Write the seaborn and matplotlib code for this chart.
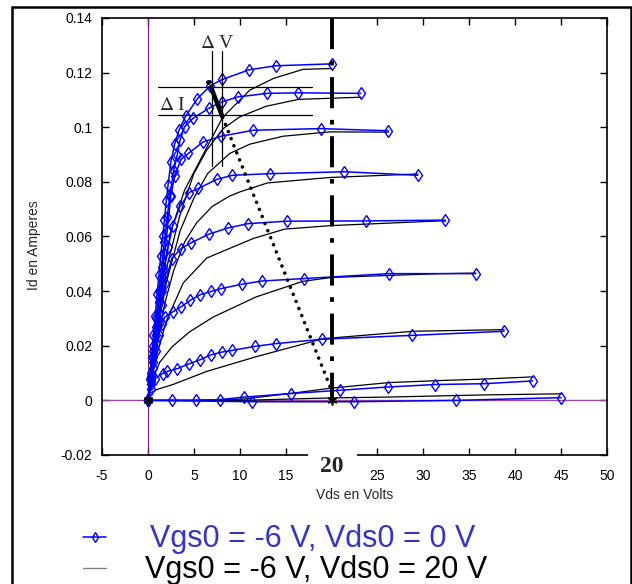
import numpy as np
import pandas as pd
import seaborn as sns
import matplotlib.pyplot as plt
from matplotlib.lines import Line2D
from matplotlib.patches import Rectangle
from matplotlib.transforms import blended_transform_factory

# Id(Vds) curves, one list of (Vds, Id) per Vgs step
# blue: Vgs0 = -6 V, Vds0 = 0 V
blue_1 = [(0, 0), (0.2, 0.008), (0.4, 0.016), (0.6, 0.024), (0.8, 0.031), (1.0, 0.039), (1.2, 0.046),
          (1.4, 0.053), (1.6, 0.06), (1.8, 0.066), (2.0, 0.073), (2.2, 0.079), (2.5, 0.0873), (2.9, 0.0937),
          (3.4, 0.099), (4.1, 0.104), (5.4, 0.1105), (6.8, 0.1152), (8.1, 0.1175), (11.0, 0.121),
          (13.9, 0.1225), (20.0, 0.1232)]
blue_2 = [(0, 0), (0.3, 0.01), (0.6, 0.02), (0.9, 0.03), (1.2, 0.04), (1.5, 0.049), (1.8, 0.058),
          (2.1, 0.067), (2.4, 0.075), (2.8, 0.084), (3.2, 0.09), (3.5, 0.0953), (4.0, 0.1002), (4.9, 0.1032),
          (6.7, 0.1071), (8.1, 0.1093), (9.8, 0.1111), (13.0, 0.1124), (16.4, 0.1126), (23.2, 0.1124)]
blue_3 = [(0, 0), (0.3, 0.009), (0.6, 0.018), (0.9, 0.027), (1.2, 0.036), (1.5, 0.045), (1.8, 0.054),
          (2.1, 0.062), (2.5, 0.075), (2.9, 0.082), (3.6, 0.0882), (4.4, 0.0904), (6.0, 0.0946),
          (7.95, 0.0967), (11.5, 0.0989), (18.8, 0.0995), (26.2, 0.0987)]
blue_4 = [(0, 0), (0.3, 0.008), (0.6, 0.016), (0.9, 0.024), (1.2, 0.032), (1.5, 0.04), (1.8, 0.048),
          (2.2, 0.056), (2.7, 0.064), (3.5, 0.071), (4.5, 0.0761), (5.5, 0.0776), (7.5, 0.0809),
          (9.2, 0.0824), (13.3, 0.083), (21.4, 0.0837), (29.4, 0.0824)]
blue_5 = [(0, 0), (0.3, 0.007), (0.6, 0.014), (0.9, 0.021), (1.2, 0.028), (1.5, 0.035), (1.9, 0.043),
          (2.6, 0.0519), (3.6, 0.0556), (4.65, 0.0576), (6.6, 0.0608), (8.7, 0.0631), (10.9, 0.0647),
          (15.1, 0.0656), (23.8, 0.0657), (32.4, 0.066)]
blue_6 = [(0, 0), (0.3, 0.006), (0.6, 0.012), (0.9, 0.018), (1.2, 0.024), (1.5, 0.0281), (1.85, 0.0305),
          (2.7, 0.0324), (3.6, 0.0342), (4.6, 0.0366), (5.7, 0.0387), (6.9, 0.0399), (7.95, 0.0409),
          (10.2, 0.0425), (12.45, 0.0437), (17.0, 0.0446), (26.3, 0.0464), (35.7, 0.0464)]
blue_7 = [(0, 0), (0.3, 0.004), (0.76, 0.008), (1.6, 0.0098), (2.1, 0.0106), (3.2, 0.0116), (4.5, 0.0134),
          (5.7, 0.0149), (6.9, 0.0167), (8.1, 0.0177), (9.2, 0.0183), (11.7, 0.0198), (14.0, 0.0208),
          (19.0, 0.0224), (28.8, 0.0238), (38.8, 0.0253)]
blue_8 = [(0, 0), (2.6, 0.0), (5.2, 0.0), (7.9, 0.0003), (10.5, 0.0012), (15.6, 0.0025), (20.9, 0.0037),
          (26.2, 0.0049), (31.3, 0.0058), (36.6, 0.0061), (41.9, 0.0071)]
blue_9 = [(0, 0), (11.3, -0.0005), (22.4, -0.0005), (33.6, 0.0), (45.0, 0.001)]

# black: Vgs0 = -6 V, Vds0 = 20 V
black_1 = [(0, 0), (0.5, 0.016), (1, 0.031), (1.5, 0.044), (2.5, 0.062), (4, 0.077), (5.7, 0.088),
           (8.14, 0.1036), (11.1, 0.1136), (13.7, 0.1179), (16.9, 0.1212), (20, 0.1215)]
black_2 = [(0, 0), (0.5, 0.014), (1, 0.027), (2, 0.048), (3.5, 0.068), (5, 0.083), (6.4, 0.0916),
           (8.2, 0.0995), (10, 0.1038), (12.9, 0.1077), (16.4, 0.1102), (23.2, 0.111)]
black_3 = [(0, 0), (0.5, 0.013), (1, 0.025), (2, 0.043), (3.5, 0.062), (5, 0.074), (6.5, 0.083),
           (8.9, 0.0904), (11.1, 0.0938), (14.7, 0.0967), (19.8, 0.0983), (26.2, 0.0982)]
black_4 = [(0, 0), (0.5, 0.011), (1, 0.021), (1.8, 0.035), (2.8, 0.0475), (4, 0.058), (5.3, 0.065),
           (7, 0.071), (8.9, 0.0748), (10, 0.0763), (13, 0.0796), (19.8, 0.0816), (29.4, 0.0829)]
black_5 = [(0, 0), (0.5, 0.009), (1, 0.017), (2, 0.029), (3.85, 0.043), (6.4, 0.0521), (11.5, 0.0593),
           (14.9, 0.0627), (20, 0.064), (31.8, 0.0657), (32.4, 0.0656)]
black_6 = [(0, 0), (0.6, 0.0085), (1.3, 0.014), (2.6, 0.0195), (4.5, 0.025), (7.1, 0.0305),
           (11.8, 0.0379), (16.9, 0.0436), (20, 0.045), (31.8, 0.0464), (35.7, 0.0466)]
black_7 = [(0, 0), (0.2, 0.0025), (1, 0.004), (2.8, 0.0059), (6.4, 0.0106), (11.8, 0.016),
           (19.1, 0.0226), (28.9, 0.0253), (38.8, 0.0259)]
black_8 = [(0, 0), (5, 0.0), (10.5, 0.0005), (16.6, 0.003), (20, 0.0045), (26.2, 0.0065), (31.3, 0.0072),
           (36.6, 0.0078), (41.9, 0.0086)]
black_9 = [(0, 0), (10.5, 0.0), (16.6, 0.0006), (20, 0.0009), (26, 0.0012), (31.3, 0.0016), (36.6, 0.002),
           (45, 0.0024)]

# construction lines (delta V / delta I and the shift towards Vds = 20 V)
delta_seg_x = [6.8, 8.14]
delta_seg_y = [0.1153, 0.1036]
dotted_x = [8.14, 20.0]
dotted_y = [0.1036, 0.0037]
dv_lines_x = [6.93, 8.02]
dv_lines_y = [0.0857, 0.128]
di_lines_y = [0.1147, 0.1043]
di_lines_x = [1.1, 17.9]
vds0 = 20
star_x = [0, 20]
star_y = [0, 0]

xtick_vals = list(range(-5, 51, 5))
ytick_vals = [-0.02, 0, 0.02, 0.04, 0.06, 0.08, 0.1, 0.12, 0.14]
ytick_labels = ['-0.02', '0', '0.02', '0.04', '0.06', '0.08', '0.1', '0.12', '0.14']


def to_frame(curves):
    rows = []
    for i, c in enumerate(curves):
        for v, a in c:
            rows.append({'curve': i, 'vds': v, 'id': a})
    return pd.DataFrame(rows)


blue_df = to_frame([blue_1, blue_2, blue_3, blue_4, blue_5, blue_6, blue_7, blue_8, blue_9])
black_df = to_frame([black_1, black_2, black_3, black_4, black_5, black_6, black_7, black_8, black_9])

sns.set_style('ticks')
plt.rcParams['font.family'] = ['Liberation Sans', 'DejaVu Sans']
plt.rcParams['mathtext.fontset'] = 'stix'

fig = plt.figure(figsize=(6.32, 5.84), dpi=100)
ax = fig.add_axes([0.1614, 0.2209, 0.799, 0.7483])

# axes through the origin
ax.axvline(0, color='#7a1a7a', lw=0.8, zorder=1)
ax.axhline(0, color='#9a4a9a', lw=1.0, zorder=1)

sns.lineplot(ax=ax, data=black_df, x='vds', y='id', units='curve', estimator=None, sort=False,
             color='black', lw=0.9, zorder=2, legend=False)
sns.lineplot(ax=ax, data=blue_df, x='vds', y='id', units='curve', estimator=None, sort=False,
             color='blue', lw=1.1, marker='d', markersize=6, markerfacecolor='none',
             markeredgecolor='blue', markeredgewidth=1.0, zorder=3, legend=False)

# Vds0 = 20 V dash-dot line (drawn from the top)
ax.plot([vds0, vds0], [0.14, 0], color='black', lw=2.8, solid_capstyle='butt',
        dash_capstyle='butt', linestyle=(0, (8.0, 3.0, 1.2, 3.0)), zorder=4)

for x in dv_lines_x:
    ax.plot([x, x], dv_lines_y, color='black', lw=0.9, zorder=4)
for y in di_lines_y:
    ax.plot(di_lines_x, [y, y], color='black', lw=0.9, zorder=4)
ax.plot(delta_seg_x, delta_seg_y, color='black', lw=3.2, solid_capstyle='butt', zorder=5)
ax.plot(dotted_x, dotted_y, color='black', lw=2.6, linestyle=(0, (0.01, 2.1)),
        dash_capstyle='round', zorder=5)
ax.plot([6.5], [0.1167], 'o', color='black', ms=2.5, zorder=5)
ax.plot(star_x, star_y, linestyle='none', marker=(6, 2, 0), color='black', ms=7, mew=1.2, zorder=6)

ax.text(7.55, 0.1307, r'$\Delta$ V', family='Liberation Serif', fontsize=14, ha='center', va='center')
ax.text(2.65, 0.108, r'$\Delta$ I', family='Liberation Serif', fontsize=14, ha='center', va='center')

# the big "20" sits in a gap cut into the bottom spine
trans = blended_transform_factory(ax.transData, ax.transAxes)
ax.add_patch(Rectangle((17.4, -0.012), 5.4, 0.03, transform=trans, fc='white', ec='none',
                       zorder=10, clip_on=False))
ax.text(vds0, -0.027, '20', transform=trans, family='Liberation Serif', fontweight='bold', fontsize=17,
        ha='center', va='center', zorder=11, clip_on=False)

ax.set_xlim(-5, 50)
ax.set_ylim(-0.02, 0.14)
ax.set_xticks(xtick_vals)
ax.set_xticklabels(['' if v == 20 else str(v) for v in xtick_vals])
ax.set_yticks(ytick_vals)
ax.set_yticklabels(ytick_labels)
ax.tick_params(direction='in', top=True, right=True, length=5, width=1, labelsize=10, colors='black')
ax.tick_params(axis='x', pad=10)
ax.tick_params(axis='y', pad=7)
for s in ax.spines.values():
    s.set_linewidth(1.2)
    s.set_color('black')
ax.set_xlabel('Vds en Volts', fontsize=10, labelpad=4)
ax.set_ylabel('Id en Amperes', fontsize=10)
ax.yaxis.set_label_coords(-0.12, 0.48)

# legend under the axes
y1 = 1 - 537 / 584
y2 = 1 - 568 / 584
fig.add_artist(Line2D([83 / 632, 106 / 632], [y1, y1], color='blue', lw=1.1))
fig.add_artist(Line2D([94.5 / 632], [y1], color='blue', marker='d', ms=5, mfc='none', mew=1.0))
fig.add_artist(Line2D([83 / 632, 106 / 632], [y2, y2], color='gray', lw=1.0))
fig.text(150 / 632, y1 - 0.003, 'Vgs0 = -6 V, Vds0 = 0 V', color='#3434c8', fontsize=22, va='center')
fig.text(145 / 632, y2 - 0.003, 'Vgs0 = -6 V, Vds0 = 20 V', color='black', fontsize=22, va='center')

# outer frame
fig.add_artist(Rectangle((12 / 632, -0.1), 631 / 632 - 12 / 632, 1.1 - 7 / 584,
                         transform=fig.transFigure, fill=False, ec='black', lw=1.8))

fig.savefig('out.png', dpi=100)
